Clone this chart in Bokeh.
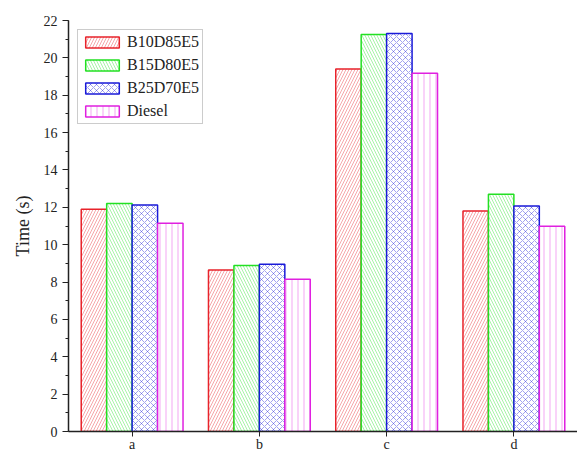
from bokeh.plotting import figure
from bokeh.models import ColumnDataSource, FixedTicker, Legend, LegendItem
from bokeh.transform import dodge
from bokeh.embed import file_html
from bokeh.resources import INLINE

categories = ["a", "b", "c", "d"]
series_names = ["B10D85E5", "B15D80E5", "B25D70E5", "Diesel"]
b10d85e5 = [11.9, 8.65, 19.4, 11.8]
b15d80e5 = [12.2, 8.88, 21.25, 12.7]
b25d70e5 = [12.12, 8.95, 21.3, 12.07]
diesel = [11.15, 8.15, 19.17, 10.98]
y_ticks = list(range(0, 23, 2))

colors = ["#e8232b", "#22e022", "#1a1ad8", "#e020e0"]
hatches = ["/", "\\", "x", "|"]
offsets = [-0.3, -0.1, 0.1, 0.3]

src = ColumnDataSource(dict(cat=categories, s0=b10d85e5, s1=b15d80e5, s2=b25d70e5, s3=diesel))

SERIF = "Liberation Serif"

p = figure(x_range=categories, y_range=(0, 22), width=577, height=454,
           output_backend="svg", toolbar_location=None,
           min_border_left=68, min_border_right=0, min_border_top=20, min_border_bottom=22)
p.outline_line_color = None
p.xgrid.grid_line_color = None
p.ygrid.grid_line_color = None
p.x_range.range_padding = 0

items = []
for i, name in enumerate(series_names):
    r = p.vbar(x=dodge("cat", offsets[i], range=p.x_range), top="s%d" % i, width=0.2, source=src,
               fill_color="white", line_color=colors[i], line_width=1.5,
               hatch_pattern=hatches[i], hatch_color=colors[i], hatch_alpha=0.4,
               hatch_scale=6, hatch_weight=1)
    items.append(LegendItem(label=name, renderers=[r]))

legend = Legend(items=items, location="top_left")
legend.label_text_font = SERIF
legend.label_text_font_size = "16px"
legend.label_text_color = "#222222"
legend.glyph_width = 42
legend.glyph_height = 14
legend.label_height = 14
legend.spacing = 5
legend.padding = 3
legend.margin = 9
legend.border_line_color = "#999999"
legend.border_line_width = 1
legend.label_standoff = 4
p.add_layout(legend)

p.yaxis.ticker = FixedTicker(ticks=y_ticks, minor_ticks=list(range(0, 23)))
p.yaxis.axis_label = "Time (s)"
p.yaxis.axis_label_text_font = SERIF
p.yaxis.axis_label_text_font_style = "normal"
p.yaxis.axis_label_text_font_size = "18px"
p.yaxis.axis_label_text_color = "#222222"
p.yaxis.axis_label_standoff = 8

for ax in (p.xaxis[0], p.yaxis[0]):
    ax.major_label_text_font = SERIF
    ax.major_label_text_font_size = "14px"
    ax.major_label_text_color = "#222222"
    ax.axis_line_color = "#222222"
    ax.axis_line_width = 1.5
    ax.major_tick_line_color = "#222222"
    ax.minor_tick_line_color = "#222222"
    ax.major_tick_out = 6
    ax.major_tick_in = 0
    ax.minor_tick_out = 3
    ax.minor_tick_in = 0
p.xaxis.major_tick_out = 5
p.xaxis.major_label_standoff = 0

open("out.html", "w").write(file_html(p, INLINE))
